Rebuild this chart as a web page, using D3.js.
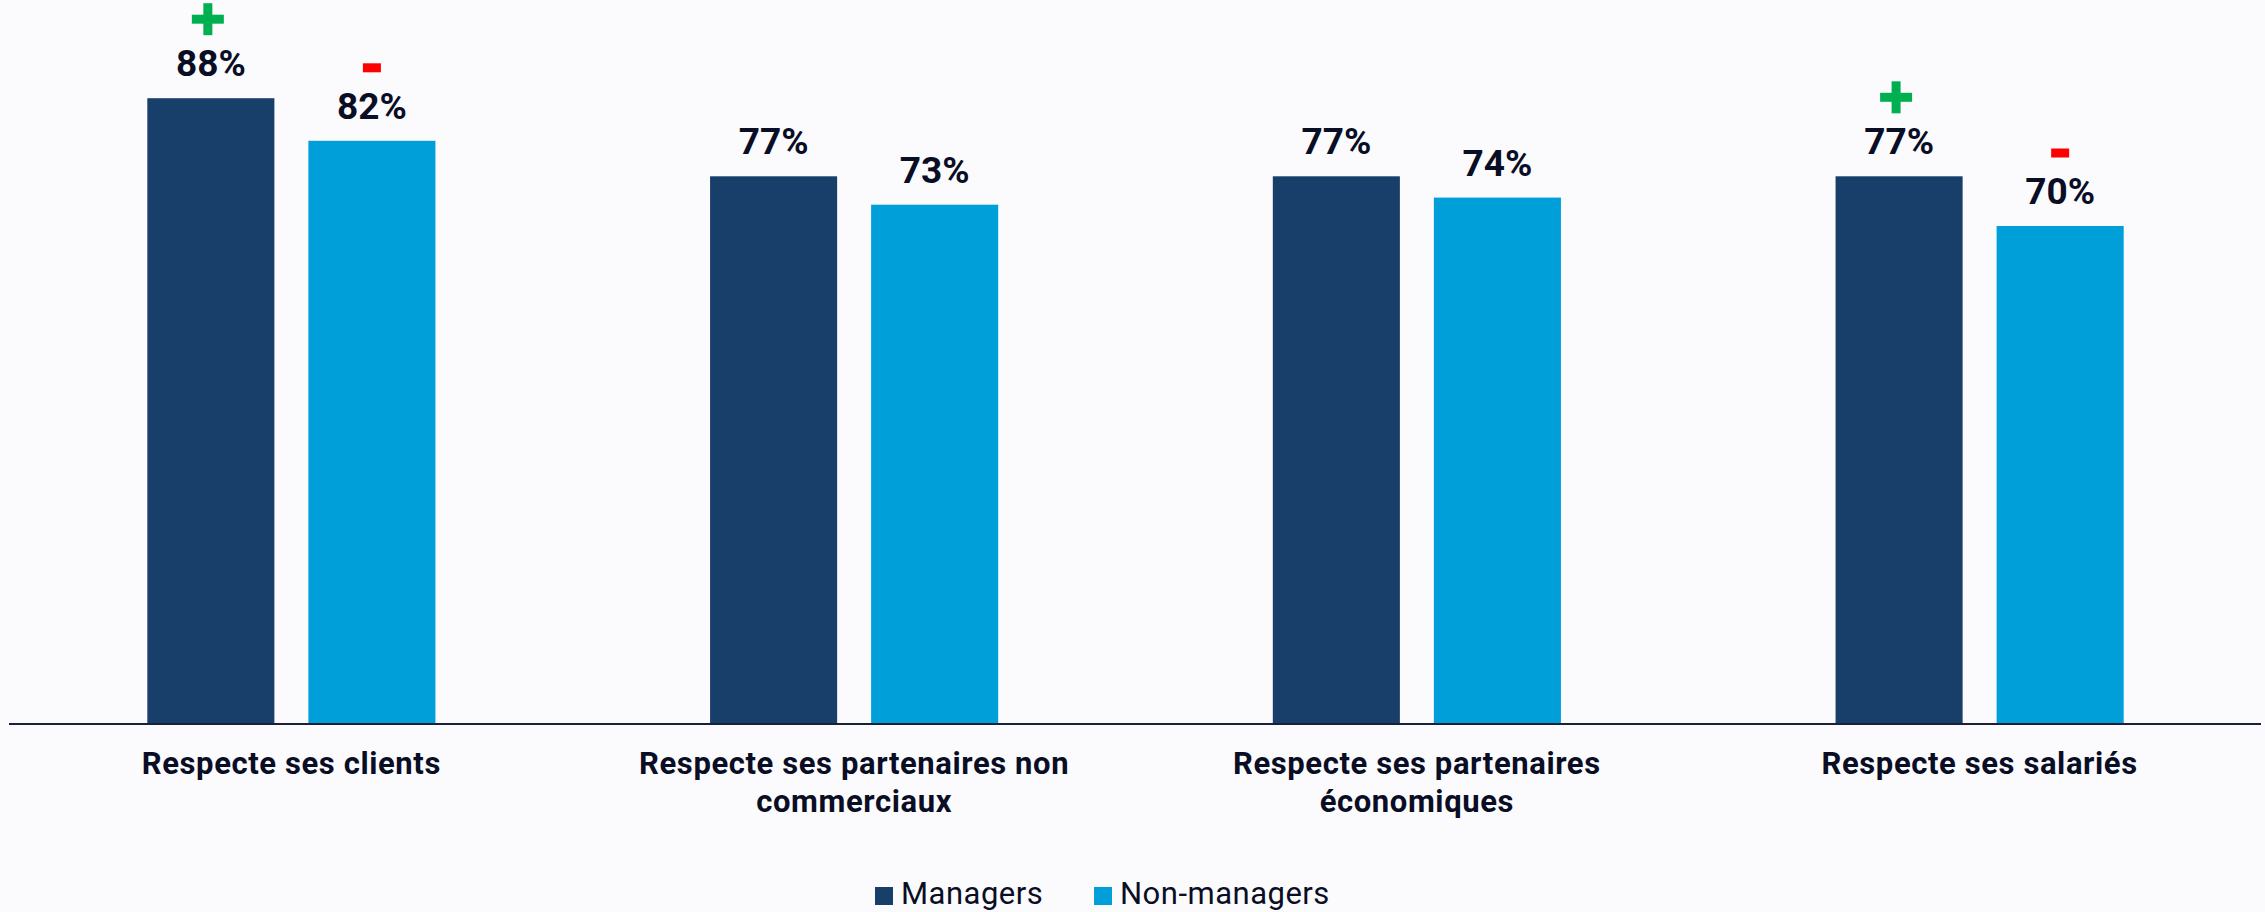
<!DOCTYPE html>
<html>
<head>
<meta charset="utf-8">
<script src="https://cdn.jsdelivr.net/npm/d3@7"></script>
<style>
  html, body { margin: 0; padding: 0; background: #fbfbfe; }
  svg { display: block; font-family: Roboto, "Liberation Sans", sans-serif; }
</style>
</head>
<body>
<svg id="chart" width="2265" height="912"></svg>
<script>
// ---- Data ----
const categories = [
  ["Respecte ses clients"],
  ["Respecte ses partenaires non", "commerciaux"],
  ["Respecte ses partenaires", "économiques"],
  ["Respecte ses salariés"]
];
const series = ["Managers", "Non-managers"];
const managers = [88, 77, 77, 77];
const nonManagers = [82, 73, 74, 70];
const managersMarks = ["+", "", "", "+"];
const nonManagersMarks = ["-", "", "", "-"];
const colors = ["#183f6a", "#019fd9"];

const values = [managers, nonManagers];
const marks = [managersMarks, nonManagersMarks];
const catKeys = categories.map(c => c.join(" "));

const svg = d3.select("#chart");
const W = 2265, H = 912;
svg.append("rect").attr("width", W).attr("height", H).attr("fill", "#fbfbfe");

const baseline = 723;
const y = d3.scaleLinear().domain([0, 100]).range([baseline, 13]);
const x0 = d3.scaleBand().domain(catKeys).range([10, 2261])
  .paddingInner(0.488).paddingOuter(0.244);
const x1 = d3.scaleBand().domain(series).range([0, x0.bandwidth()])
  .paddingInner(0.211).paddingOuter(0);

const textColor = "#0a0e25";

// Bars
const g = svg.append("g");
series.forEach((s, si) => {
  g.selectAll(".bar" + si)
    .data(values[si])
    .join("rect")
    .attr("x", (d, i) => x0(catKeys[i]) + x1(s))
    .attr("y", d => y(d))
    .attr("width", x1.bandwidth())
    .attr("height", d => baseline - y(d))
    .attr("fill", colors[si]);

  g.selectAll(".lbl" + si)
    .data(values[si])
    .join("text")
    .attr("x", (d, i) => x0(catKeys[i]) + x1(s) + x1.bandwidth() / 2)
    .attr("y", d => y(d) - 22)
    .attr("text-anchor", "middle")
    .attr("font-size", 37)
    .attr("font-weight", 700)
    .attr("fill", textColor)
    .text(d => d + "%");

  // Markers
  values[si].forEach((d, i) => {
    const m = marks[si][i];
    if (!m) return;
    const cx = x0(catKeys[i]) + x1(s) + x1.bandwidth() / 2 - 3;
    if (m === "+") {
      const cy = y(d) - 22 - 57;
      g.append("rect").attr("x", cx - 16).attr("y", cy - 4.5).attr("width", 32).attr("height", 9).attr("fill", "#00b050");
      g.append("rect").attr("x", cx - 4.5).attr("y", cy - 16).attr("width", 9).attr("height", 32).attr("fill", "#00b050");
    } else {
      const cy = y(d) - 22 - 51;
      g.append("rect").attr("x", cx - 9 + 3).attr("y", cy - 4.5).attr("width", 18).attr("height", 9).attr("fill", "#ff0000");
    }
  });
});

// Axis line
svg.append("line")
  .attr("x1", 9).attr("x2", 2261)
  .attr("y1", baseline + 1).attr("y2", baseline + 1)
  .attr("stroke", "#1a1f3a").attr("stroke-width", 2);

// Category labels
categories.forEach((lines, i) => {
  const t = svg.append("text")
    .attr("x", x0(catKeys[i]) + x0.bandwidth() / 2)
    .attr("y", 774)
    .attr("text-anchor", "middle")
    .attr("font-size", 31)
    .attr("font-weight", 700)
    .attr("letter-spacing", 0.6)
    .attr("fill", textColor);
  lines.forEach((ln, li) => {
    t.append("tspan")
      .attr("x", x0(catKeys[i]) + x0.bandwidth() / 2)
      .attr("dy", li === 0 ? 0 : 38)
      .text(ln);
  });
});

// Legend
const legendItems = [
  { name: series[0], color: colors[0], x: 875 },
  { name: series[1], color: colors[1], x: 1094 }
];
const lg = svg.append("g");
legendItems.forEach(it => {
  lg.append("rect").attr("x", it.x).attr("y", 887).attr("width", 18).attr("height", 18).attr("fill", it.color);
  lg.append("text").attr("x", it.x + 26).attr("y", 904)
    .attr("font-size", 31).attr("letter-spacing", 0.5).attr("fill", textColor).text(it.name);
});
</script>
</body>
</html>
